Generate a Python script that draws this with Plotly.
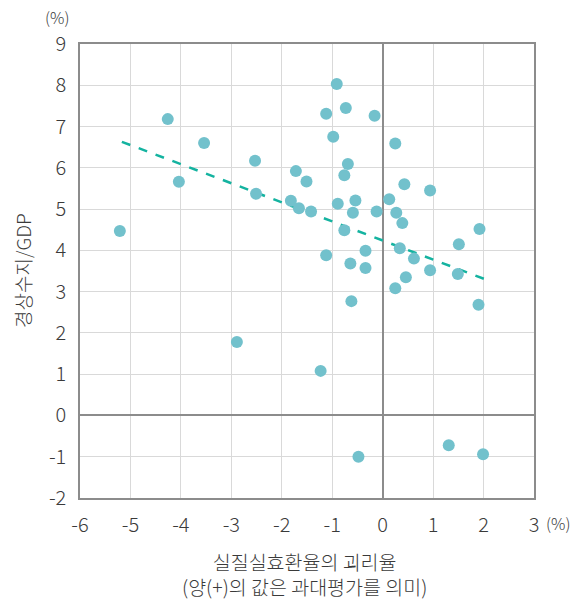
import plotly.graph_objects as go

x_vals = [-5.21, -4.26, -4.04, -3.54, -2.53, -2.51, -2.89,
          -0.91, -0.73, -1.12, -0.16, -0.98, 0.25, -0.69, -1.72, -0.76, -1.51,
          0.43, 0.94, -1.82, -0.54, 0.13, -1.66, -0.89, -1.42, -0.59, -0.12,
          0.27, 0.39, -0.76, 1.92, 1.51, 0.34, -0.34, -1.12, 0.62, -0.64,
          -0.34, 0.94, 1.49, 0.46, 0.25, -0.62, 1.90, -1.23, 1.31, -0.48, 1.99]
y_vals = [4.47, 7.18, 5.66, 6.60, 6.17, 5.37, 1.78,
          8.03, 7.45, 7.31, 7.26, 6.75, 6.59, 6.09, 5.92, 5.82, 5.67,
          5.60, 5.45, 5.20, 5.21, 5.24, 5.02, 5.13, 4.94, 4.91, 4.94,
          4.91, 4.66, 4.49, 4.52, 4.15, 4.05, 3.99, 3.88, 3.80, 3.68,
          3.57, 3.52, 3.43, 3.35, 3.08, 2.77, 2.68, 1.08, -0.72, -1.00, -0.94]

trend_x = [-5.17, 2.01]
trend_y = [6.63, 3.31]

x_ticks = [-6, -5, -4, -3, -2, -1, 0, 1, 2, 3]
y_ticks = [-2, -1, 0, 1, 2, 3, 4, 5, 6, 7, 8, 9]

FONT = "Noto Sans CJK KR"
TXT = "#3a3a3a"
TICKFONT = dict(size=20, family=FONT, color=TXT, weight=300)

fig = go.Figure()
fig.add_trace(go.Scatter(x=trend_x, y=trend_y, mode="lines",
                         line=dict(color="#14b3a0", width=2.5, dash="dash"),
                         hoverinfo="skip", showlegend=False))
fig.add_trace(go.Scatter(x=x_vals, y=y_vals, mode="markers",
                         marker=dict(color="#72c1cc", size=12, line=dict(width=0)),
                         showlegend=False))

fig.update_layout(
    width=571, height=600,
    margin=dict(l=80, r=37, t=44, b=102),
    plot_bgcolor="white", paper_bgcolor="white",
    font=dict(family=FONT, color=TXT, size=18, weight=300),
    xaxis=dict(range=[-6, 3], tickvals=x_ticks, ticktext=[str(v) for v in x_ticks],
               showgrid=True, gridcolor="#d9d9d9", gridwidth=1,
               zeroline=True, zerolinecolor="#8c8c8c", zerolinewidth=1.5,
               showline=True, linecolor="#8c8c8c", linewidth=1.5, mirror=True,
               ticks="", ticklen=0, ticklabelstandoff=8, tickfont=TICKFONT),
    yaxis=dict(range=[-2, 9], tickvals=y_ticks, ticktext=[str(v) for v in y_ticks],
               showgrid=True, gridcolor="#d9d9d9", gridwidth=1,
               zeroline=True, zerolinecolor="#8c8c8c", zerolinewidth=1.5,
               showline=True, linecolor="#8c8c8c", linewidth=1.5, mirror=True,
               ticks="", ticklen=0, ticklabelstandoff=8, tickfont=TICKFONT),
    annotations=[
        dict(text="(%)", xref="paper", yref="paper", x=0, xshift=-23, y=1.0, yshift=27,
             showarrow=False, xanchor="center", yanchor="middle",
             font=dict(size=16, family=FONT, color=TXT, weight=300)),
        dict(text="(%)", xref="paper", yref="paper", x=1.0, y=0, xshift=10, yshift=-25,
             showarrow=False, xanchor="left", yanchor="middle",
             font=dict(size=16, family=FONT, color=TXT, weight=300)),
        dict(text="경상수지/GDP", xref="paper", yref="paper", x=0, xshift=-58, y=0.5, yshift=-0,
             showarrow=False, textangle=-90, xanchor="center", yanchor="middle",
             font=dict(size=19, family=FONT, color=TXT, weight=300)),
        dict(text="실질실효환율의 괴리율<br>(양(+)의 값은 과대평가를 의미)", xref="paper", yref="paper",
             x=0.5, xshift=-3, y=0, yshift=-76, showarrow=False, xanchor="center", yanchor="middle",
             font=dict(size=19.5, family=FONT, color=TXT, weight=300)),
    ],
)

fig.write_html("out.html", post_script="document.body.style.margin='0';",
               config={"displayModeBar": False})
